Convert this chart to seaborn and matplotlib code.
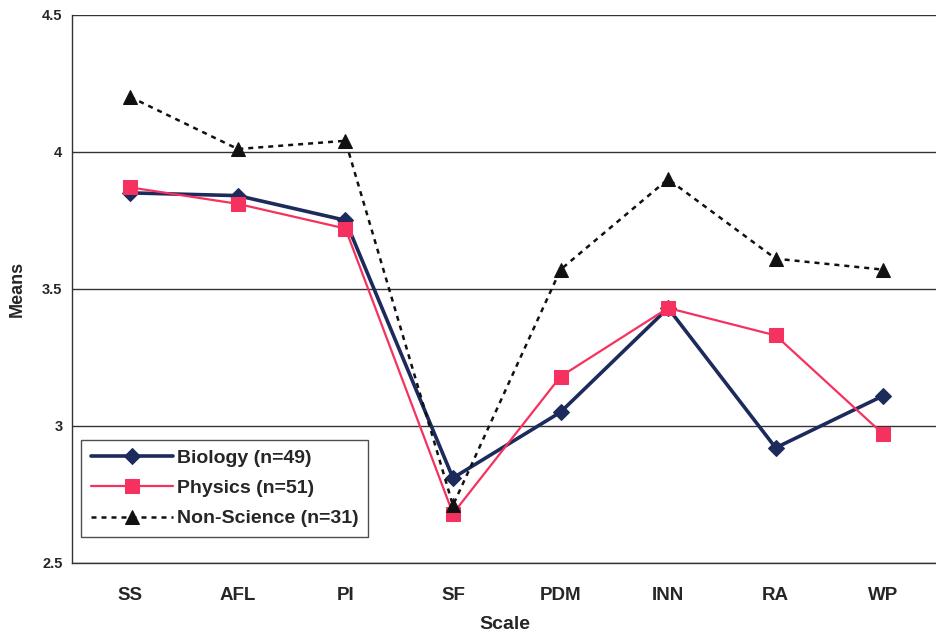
import matplotlib
matplotlib.use("Agg")
import matplotlib.pyplot as plt
import seaborn as sns
import pandas as pd
from matplotlib.ticker import FixedLocator

scales = ["SS", "AFL", "PI", "SF", "PDM", "INN", "RA", "WP"]
biology = [3.85, 3.84, 3.75, 2.81, 3.05, 3.43, 2.92, 3.11]
physics = [3.87, 3.81, 3.72, 2.68, 3.18, 3.43, 3.33, 2.97]
non_science = [4.20, 4.01, 4.04, 2.71, 3.57, 3.90, 3.61, 3.57]
series_names = ["Biology (n=49)", "Physics (n=51)", "Non-Science (n=31)"]
y_ticks = [2.5, 3, 3.5, 4, 4.5]
y_tick_labels = ["2.5", "3", "3.5", "4", "4.5"]

rows = []
for name, vals in zip(series_names, [biology, physics, non_science]):
    for i, (s, v) in enumerate(zip(scales, vals)):
        rows.append({"Scale": s, "pos": i, "Means": v, "Group": name})
df = pd.DataFrame(rows)

sns.set_style("white")
plt.rcParams["font.family"] = ["Liberation Sans", "DejaVu Sans"]

fig = plt.figure(figsize=(9.37, 6.39), dpi=100)
ax = fig.add_axes([0.077, 0.119, 0.923, 0.858])

palette = {series_names[0]: "#1c2a5c", series_names[1]: "#f5325f", series_names[2]: "#111111"}
markers = {series_names[0]: "D", series_names[1]: "s", series_names[2]: "^"}
widths = {series_names[0]: 2.6, series_names[1]: 1.6, series_names[2]: 1.8}

for name in series_names:
    sub = df[df["Group"] == name]
    sns.lineplot(data=sub, x="pos", y="Means", ax=ax, color=palette[name],
                 marker=markers[name], markersize=10 if name != series_names[0] else 8,
                 markeredgecolor=palette[name], linewidth=widths[name],
                 linestyle=(0, (2, 2)) if name == series_names[2] else "-",
                 label=name)

ax.set_xlim(-0.54, 7.5)
ax.set_ylim(2.5, 4.5)
ax.set_xticks(range(len(scales)))
ax.set_xticklabels(scales, fontsize=13.5, fontweight="bold")
ax.xaxis.set_minor_locator(FixedLocator([i + 0.5 for i in range(len(scales) - 1)]))
ax.tick_params(axis="x", which="major", length=0, pad=17)
ax.tick_params(axis="x", which="minor", length=5, direction="out", color="#333333")
ax.set_yticks(y_ticks)
ax.set_yticklabels(y_tick_labels, fontsize=10.5, fontweight="bold")
ax.tick_params(axis="y", length=5, direction="out", color="#333333", pad=2)
ax.yaxis.grid(True, color="#333333", linewidth=1.0)
ax.set_axisbelow(True)
for sp in ["top", "right"]:
    ax.spines[sp].set_visible(False)
for sp in ["left", "bottom"]:
    ax.spines[sp].set_color("#333333")
    ax.spines[sp].set_linewidth(1.0)
ax.set_xlabel("Scale", fontsize=14, fontweight="bold", labelpad=9)
ax.set_ylabel("Means", fontsize=13, fontweight="bold", labelpad=12)

leg = ax.legend(loc="lower left", bbox_to_anchor=(0.006, 0.04), frameon=True,
                fancybox=False, edgecolor="#222222",
                prop={"weight": "bold", "size": 14}, handlelength=4.2,
                borderpad=0.5, labelspacing=0.65, handletextpad=0.2,
                borderaxespad=0.2)
leg.get_frame().set_linewidth(1.0)

fig.savefig("out.png", dpi=100, facecolor="white")
